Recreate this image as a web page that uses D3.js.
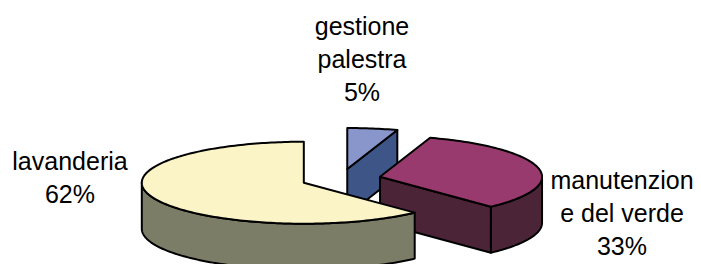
<!DOCTYPE html>
<html>
<head>
<meta charset="utf-8">
<script src="https://cdn.jsdelivr.net/npm/d3@7"></script>
<style>
  html, body { margin: 0; padding: 0; background: #fff; }
  svg { display: block; }
</style>
</head>
<body>
<svg id="chart" width="701" height="264"></svg>
<script>
// ---- data ----
const categories = ["gestione palestra", "manutenzione del verde", "lavanderia"];
const values = [5, 33, 62];
const labelLines = [
  ["gestione", "palestra", "5%"],
  ["manutenzion", "e del verde", "33%"],
  ["lavanderia", "62%"]
];
const topColors = ["#8896CB", "#993A6E", "#FBF4C7"];
const sideColors = ["#3E5588", "#4B2438", "#7C7D67"];

// ---- layout ----
const svg = d3.select("#chart");
const cx = 341, cy = 179;
const R = 162, k = 0.253, depth = 46, explode = 40;

const arcs = d3.pie().sort(null).startAngle(0).endAngle(2 * Math.PI)(values);

const line = d3.line();
function proj(a, rho, z, off) {
  return [cx + off[0] + rho * Math.sin(a), cy + off[1] - rho * k * Math.cos(a) + z];
}
function arcPts(a0, a1, z, off) {
  const n = Math.max(2, Math.ceil(Math.abs(a1 - a0) / 0.02));
  return d3.range(n + 1).map(i => proj(a0 + (a1 - a0) * i / n, R, z, off));
}

const slices = arcs.map((d, i) => {
  const mid = (d.startAngle + d.endAngle) / 2;
  return { d, i, mid, off: [explode * Math.sin(mid), -explode * k * Math.cos(mid)] };
});
// back to front
slices.sort((a, b) => Math.cos(b.mid) - Math.cos(a.mid));

const g = svg.append("g")
  .attr("stroke", "#000").attr("stroke-width", 2).attr("stroke-linejoin", "round");

slices.forEach(s => {
  const { d, i, off } = s;
  const a0 = d.startAngle, a1 = d.endAngle;
  const grp = g.append("g");
  const center = proj(0, 0, 0, off), centerB = proj(0, 0, depth, off);
  // radial faces
  const faces = [];
  // start face normal (-cos a, -sin a): visible if -sin a > 0
  if (-Math.sin(a0) > 1e-6) faces.push(a0);
  if (Math.sin(a1) > 1e-6) faces.push(a1);
  faces.forEach(a => {
    const p = proj(a, R, 0, off), pb = proj(a, R, depth, off);
    grp.append("path").attr("d", line([center, p, pb, centerB]) + "Z")
      .attr("fill", sideColors[i]);
  });
  // outer wall, visible part where cos < 0 (angles between PI/2 and 3PI/2)
  const v0 = Math.max(a0, Math.PI / 2), v1 = Math.min(a1, 3 * Math.PI / 2);
  if (v1 > v0) {
    const topArc = arcPts(v0, v1, 0, off);
    const botArc = arcPts(v1, v0, depth, off);
    grp.append("path").attr("d", line(topArc.concat(botArc)) + "Z")
      .attr("fill", sideColors[i]);
  }
  // top face
  const topPts = [center].concat(arcPts(a0, a1, 0, off));
  grp.append("path").attr("d", line(topPts) + "Z").attr("fill", topColors[i]);
});

// ---- labels ----
const labelPos = [
  { x: 362, y: 35 },
  { x: 622, y: 189 },
  { x: 70, y: 170 }
];
const lh = 33;
labelLines.forEach((lines, i) => {
  const t = svg.append("text")
    .attr("font-family", "'Liberation Sans', Arial, sans-serif")
    .attr("font-size", 25)
    .attr("fill", "#000")
    .attr("text-anchor", "middle");
  lines.forEach((l, j) => {
    t.append("tspan").attr("x", labelPos[i].x).attr("y", labelPos[i].y + j * lh).text(l);
  });
});
</script>
</body>
</html>
